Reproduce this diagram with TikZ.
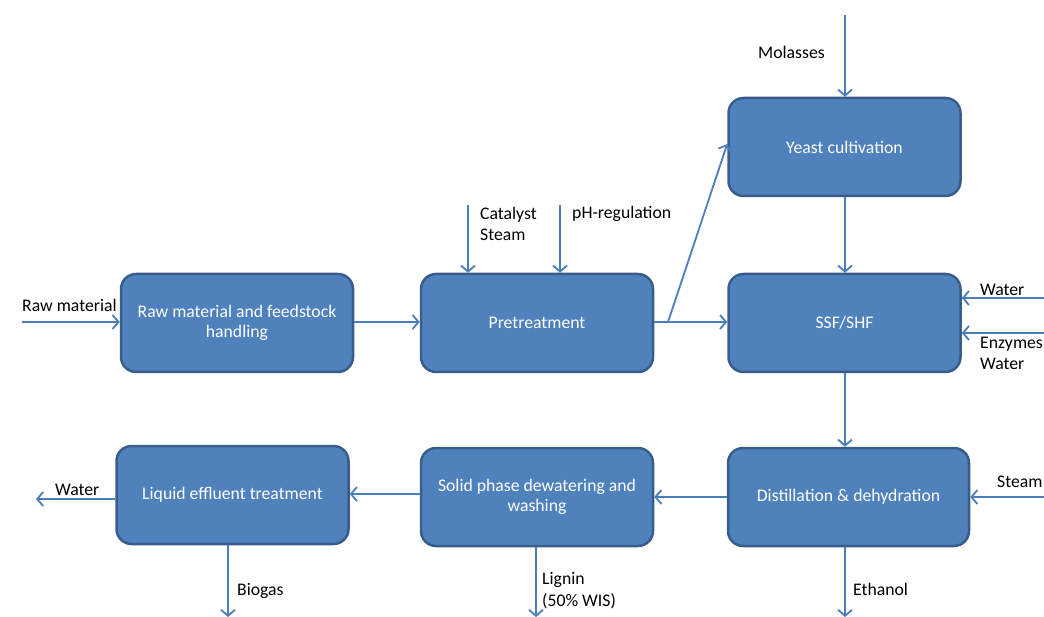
\documentclass[tikz,border=0pt]{standalone}
\usepackage{fontspec}
\setmainfont{Carlito}
\usetikzlibrary{arrows.meta}
\definecolor{boxfill}{HTML}{4F81BD}
\definecolor{boxline}{HTML}{385D8A}
\definecolor{arr}{HTML}{4A7EBB}
\begin{document}
\begin{tikzpicture}[x=1pt,y=-1pt,
  box/.style={draw=boxline, line width=2.5pt, fill=boxfill, rounded corners=15pt,
    minimum width=232pt, minimum height=98pt, text=white, align=center,
    font=\fontsize{17.7}{20.5}\selectfont, inner sep=0pt},
  flow/.style={draw=arr, line width=1.8pt, -{Straight Barb[length=6pt,width=14pt,line width=1.8pt]}},
  lbl/.style={font=\fontsize{17.7}{21.5}\selectfont, text=black, inner sep=0pt, align=left}]
\useasboundingbox (0,0) rectangle (1044,617);
% boxes
\node[box] (raw) at (237,323) {Raw material and feedstock\\handling};
\node[box] (pre) at (537,323) {Pretreatment};
\node[box] (yeast) at (844.5,147) {Yeast cultivation};
\node[box] (ssf) at (844.5,323) {SSF/SHF};
\node[box, minimum width=241pt] (dist) at (848.5,497) {Distillation \& dehydration};
\node[box] (solid) at (537,497) {Solid phase dewatering and\\washing};
\node[box] (liq) at (232.5,495) {Liquid effluent treatment};
% free ends
\coordinate (rawin) at (22,322);
\coordinate (catin) at (468,205);
\coordinate (phin) at (560,205);
\coordinate (molin) at (845,15);
\coordinate (watin) at (1044,298);
\coordinate (enzin) at (1044,333);
\coordinate (stin) at (1044,497);
\coordinate (watout) at (36,499);
\coordinate (bioout) at (228,617);
\coordinate (ligout) at (536,617);
\coordinate (ethout) at (845,617);
\coordinate (br) at (668,322);
% connectors
\draw[flow] (rawin) -- (raw.west |- rawin);
\draw[flow] (raw.east |- rawin) -- (pre.west |- rawin);
\draw[flow] (pre.east |- rawin) -- (ssf.west |- rawin);
\draw[flow] (br) -- ([yshift=3pt]yeast.west);
\draw[flow] (catin) -- (catin |- pre.north);
\draw[flow] (phin) -- (phin |- pre.north);
\draw[flow] (molin) -- (molin |- yeast.north);
\draw[flow] (yeast.south -| molin) -- (ssf.north -| molin);
\draw[flow] (watin) -- (ssf.east |- watin);
\draw[flow] (enzin) -- (ssf.east |- enzin);
\draw[flow] (ssf.south -| molin) -- (dist.north -| molin);
\draw[flow] (stin) -- (dist.east |- stin);
\draw[flow] (dist.west |- stin) -- (solid.east |- stin);
\draw[flow] (solid.west |- 0,494) -- (liq.east |- 0,494);
\draw[flow] (liq.west |- watout) -- (watout);
\draw[flow] (liq.south -| bioout) -- (bioout);
\draw[flow] (solid.south -| ligout) -- (ligout);
\draw[flow] (dist.south -| ethout) -- (ethout);
% labels
\node[lbl, anchor=base west] (lraw) at (22,312) {Raw material};
\node[lbl, anchor=base west] (lcat) at (480,241) {Catalyst\\Steam};
\node[lbl, anchor=base west] (lph) at (572,219) {pH-regulation};
\node[lbl, anchor=base west] (lmol) at (758,59) {Molasses};
\node[lbl, anchor=base west] (lwat) at (980,296) {Water};
\node[lbl, anchor=base west] (lenz) at (980,370) {Enzymes\\Water};
\node[lbl, anchor=base west] (lst) at (997,487) {Steam};
\node[lbl, anchor=base west] (lwo) at (55,495) {Water};
\node[lbl, anchor=base west] (lbio) at (237,595) {Biogas};
\node[lbl, anchor=base west] (llig) at (542,606) {Lignin\\(50\% WIS)};
\node[lbl, anchor=base west] (leth) at (853,595) {Ethanol};
\end{tikzpicture}
\end{document}
